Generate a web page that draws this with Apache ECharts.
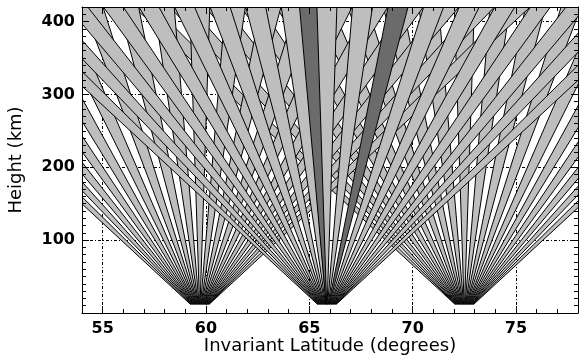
<!DOCTYPE html>
<html>
<head>
<meta charset="utf-8">
<script src="https://cdn.jsdelivr.net/npm/echarts@6.0.0/dist/echarts.min.js"></script>
<style>
html, body { margin: 0; padding: 0; background: #fff; }
#chart { width: 579px; height: 356px; }
</style>
</head>
<body>
<div id="chart"></div>
<script>
// station positions (invariant latitude, degrees)
const receiverLat = [59.7, 65.85, 72.5];
// centre of each ray, as latitude offset from its station at 100 km height (degrees)
const rayOffset100 = [-3.69, -3.28, -2.87, -2.46, -2.05, -1.64, -1.23, -0.82, -0.41, 0,
                      0.41, 0.82, 1.23, 1.64, 2.05, 2.46, 2.87, 3.28, 3.69];
// highlighted rays: [station index, offset at 100 km]
const darkRays = [[1, -0.2], [1, 0.82]];
const bandWidth100 = 0.23;   // ray width at 100 km (degrees)
const baseHeight = 12;       // rays start here (km)
const topHeight = 420;
const xTicks = [55, 60, 65, 70, 75];
const yTicks = [100, 200, 300, 400];
const drawOrder = [2, 0, 1];

// one item per ray: [station lat, offset, dark?]
const bands = [];
drawOrder.forEach(r => {
  const offs = rayOffset100.slice();
  darkRays.forEach(d => { if (d[0] === r && offs.indexOf(d[1]) < 0) offs.push(d[1]); });
  offs.sort((a, b) => a - b);
  offs.forEach(o => {
    const dark = darkRays.some(d => d[0] === r && d[1] === o) ? 1 : 0;
    bands.push([receiverLat[r], o, dark]);
  });
});

function renderBand(params, api) {
  const x0 = api.value(0), off = api.value(1), dark = api.value(2);
  const sl = (off - bandWidth100 / 2) / 100;
  const sr = (off + bandWidth100 / 2) / 100;
  const pts = [
    api.coord([x0 + sl * baseHeight, baseHeight]),
    api.coord([x0 + sl * topHeight, topHeight]),
    api.coord([x0 + sr * topHeight, topHeight]),
    api.coord([x0 + sr * baseHeight, baseHeight])
  ];
  const cs = params.coordSys;
  return {
    type: 'polygon',
    shape: { points: pts },
    style: { fill: dark ? '#6b6b6b' : '#bebebe', stroke: '#000', lineWidth: 1 },
    clipPath: { type: 'rect', shape: { x: cs.x, y: cs.y, width: cs.width, height: cs.height } }
  };
}

const black = '#000';
const minorX = (pos) => ({
  gridIndex: 0, type: 'value', position: pos, min: 54, max: 78, interval: 1, z: 10,
  axisLine: { show: true, onZero: false, lineStyle: { color: black, width: 1 } },
  axisTick: { show: true, inside: true, length: 4, lineStyle: { color: black } },
  axisLabel: { show: false }, splitLine: { show: false }
});
const majorX = (pos, labels) => ({
  gridIndex: 1, type: 'value', position: pos, min: 54, max: 78, z: 10,
  axisLine: { show: false, onZero: false },
  axisTick: { show: true, inside: true, length: 7, customValues: xTicks, lineStyle: { color: black } },
  axisLabel: { show: labels, customValues: xTicks, margin: 8, color: black,
               fontFamily: 'DejaVu Sans', fontWeight: 'bold', fontSize: 16 },
  splitLine: { show: false },
  name: labels ? 'Invariant Latitude (degrees)' : '',
  nameLocation: 'middle', nameGap: 24, nameMoveOverlap: false,
  nameTextStyle: { color: black, fontFamily: 'DejaVu Sans', fontSize: 18 }
});
const minorY = (pos) => ({
  gridIndex: 0, type: 'value', position: pos, min: 0, max: 420, interval: 10, z: 10,
  axisLine: { show: true, onZero: false, lineStyle: { color: black, width: 1 } },
  axisTick: { show: true, inside: true, length: 4, lineStyle: { color: black } },
  axisLabel: { show: false }, splitLine: { show: false }
});
const majorY = (pos, labels) => ({
  gridIndex: 1, type: 'value', position: pos, min: 0, max: 420, z: 10,
  axisLine: { show: false, onZero: false },
  axisTick: { show: true, inside: true, length: 7, customValues: yTicks, lineStyle: { color: black } },
  axisLabel: { show: labels, customValues: yTicks, margin: 7, color: black,
               fontFamily: 'DejaVu Sans', fontWeight: 'bold', fontSize: 16 },
  splitLine: { show: false },
  name: labels ? 'Height (km)' : '',
  nameLocation: 'middle', nameGap: 57, nameMoveOverlap: false,
  nameTextStyle: { color: black, fontFamily: 'DejaVu Sans', fontSize: 18 }
});

const gridBox = { left: 82, top: 7, right: 1, bottom: 43, outerBoundsMode: 'none', containLabel: false };

const chart = echarts.init(document.getElementById('chart'), null, { renderer: 'canvas' });
chart.setOption({
  animation: false,
  backgroundColor: '#fff',
  grid: [Object.assign({}, gridBox), Object.assign({}, gridBox)],
  xAxis: [minorX('bottom'), minorX('top'), majorX('bottom', true), majorX('top', false)],
  yAxis: [minorY('left'), minorY('right'), majorY('left', true), majorY('right', false)],
  series: [
    {
      type: 'line', xAxisIndex: 0, yAxisIndex: 0, data: [], z: 1, silent: true,
      markLine: {
        z: 1, silent: true, symbol: 'none', label: { show: false }, animation: false,
        lineStyle: { color: black, width: 1, type: [3, 2, 1, 2] },
        data: xTicks.map(v => ({ xAxis: v })).concat(yTicks.map(v => ({ yAxis: v })))
      }
    },
    {
      type: 'custom', xAxisIndex: 0, yAxisIndex: 0, z: 2, silent: true,
      renderItem: renderBand,
      data: bands
    }
  ]
});
</script>
</body>
</html>
